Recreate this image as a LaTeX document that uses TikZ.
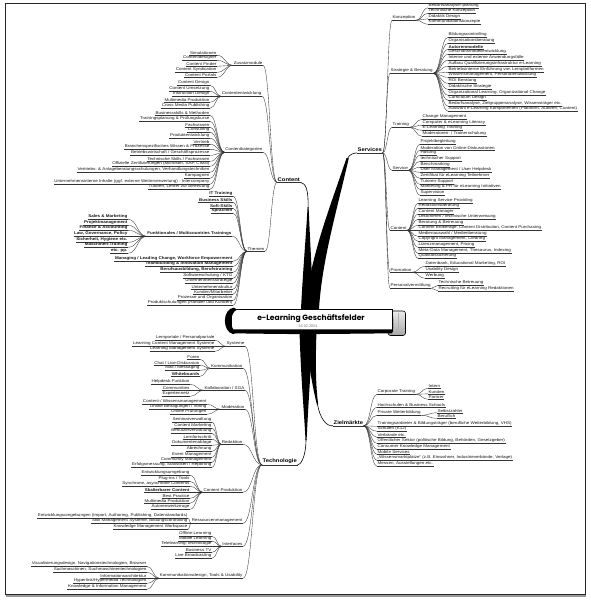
\documentclass[tikz,border=0pt]{standalone}
\usepackage{fontspec}
\setmainfont{Liberation Sans}
\newfontfamily\lffont{Liberation Sans}[FakeStretch=1.13]
\newfontfamily\ttlfont{Poppins}
\usetikzlibrary{calc}
\tikzset{
 lf/.style={font=\lffont\fontsize{4}{4}\selectfont, inner xsep=0.5pt, inner ysep=0.45pt, text=black!90},
 main/.style={font=\lffont\fontsize{5.2}{5.2}\selectfont\bfseries, inner xsep=0.5pt, inner ysep=0.6pt},
 ul/.style={line width=0.35pt, draw=black!80},
 hc/.style={to path={.. controls ($(\tikztostart)!0.5!(\tikztostart-|\tikztotarget)$) and ($(\tikztotarget)!0.5!(\tikztotarget-|\tikztostart)$) .. (\tikztotarget)}},
 br/.style={line width=0.35pt, draw=black!80, hc},
 arm/.style={fill=black},
 armline/.style={line width=0.6pt, draw=black},
}
\newcommand\Lft[5][lf]{\node[#1,anchor=south east] (#2) at (#3,#4+2.3) {#5};\draw[ul] (#2.south west) -- (#2.south east);}
\newcommand\Rgt[5][lf]{\node[#1,anchor=south west] (#2) at (#3,#4+2.3) {#5};\draw[ul] (#2.south west) -- (#2.south east);}
\newcommand\Cn[2]{\draw[br] (#1.south east) to (#2.south west);}
\begin{document}
\begin{tikzpicture}[x=1pt,y=-1pt]
\useasboundingbox (0,0) rectangle (590,600);
\fill[white] (0,0) rectangle (590,600);
\draw[line width=0.7pt, black!85] (5.5,3.5) rectangle (585.5,594.5);
\draw[line width=1.6pt, black!40] (5.5,596.2) -- (585.5,596.2);

% ---------- main labels ----------
\Rgt[main]{cn}{277}{180}{Content}
\Rgt[main]{svc}{357}{150.5}{Services}
\Rgt[main]{tec}{262}{462.5}{Technologie}
\Rgt[main]{zi}{333}{423.5}{Zielmärkte}

% ---------- trunk arms ----------
\fill[arm] (301,309) .. controls (303,270) and (306,235) .. (307.6,207) -- (308.6,207) .. controls (310,240) and (312,275) .. (313.5,309) -- cycle;
\draw[armline] (308.1,208) .. controls (308.5,190) and (306,183.5) .. (cn.south east);
\fill[arm] (304.5,309) .. controls (312,250) and (331,205) .. (346.5,158) -- (348.8,158) .. controls (337,210) and (322,260) .. (319,309) -- cycle;
\draw[armline] (347.8,158) .. controls (350,154) and (353,153.5) .. (svc.south west);
\fill[arm] (299.5,331) .. controls (301,380) and (304,410) .. (305.5,440) -- (306.6,440) .. controls (308,410) and (310,380) .. (313,331) -- cycle;
\draw[armline] (306,439) .. controls (306,458) and (300,465.5) .. (tec.south east);
\fill[arm] (305,331) .. controls (308,360) and (312,385) .. (317,405) -- (318.2,404.5) .. controls (315.5,385) and (315.5,360) .. (316.5,331) -- cycle;
\draw[armline] (317.5,404.5) .. controls (320,418) and (326,426.5) .. (zi.south west);

% ---------- banner ----------
\shade[top color=gray!15, bottom color=gray!70, draw=black, line width=0.6pt, rounded corners=2.5pt] (388,311) rectangle (405.5,335.5);
\draw[line width=0.4pt, gray] (392.5,313.5) .. controls (394,324) .. (392.5,333.5);
\draw[line width=0.4pt, gray!60] (398,313) -- (398,334);
\draw[line width=0.9pt, fill=white] (231,309) -- (392,309) -- (392,331) -- (231,331) -- cycle;
\fill (231,329.3) -- (392,329.3) -- (392,333.3) .. controls (300,334.3) .. (233,333.3) -- cycle;
\fill (234,307.6) .. controls (222,309) and (222,331.5) .. (233,334) -- (236,333) .. controls (229.5,328) and (229.5,313) .. (237,309.6) -- cycle;
\node[font=\ttlfont\bfseries\fontsize{7.6}{8}\selectfont, inner sep=0pt] (title) at (311,318.3) {e-Learning Geschäftsfelder};
\node[font=\fontsize{3.8}{4}\selectfont, text=black!55, inner sep=0pt] (date) at (308,326.6) {16.02.2001};

% ---------- CONTENT ----------
\Lft{zm}{263}{63}{Zusatzmodule}
\Lft{ce}{262}{94}{Contententwicklung}
\Lft{ck}{263}{150}{Contentkategorien}
\Lft{th}{265}{249}{Themen}
\Cn{zm}{cn}\Cn{ce}{cn}\Cn{ck}{cn}\Cn{th}{cn}

\foreach \yy/\txt [count=\i] in {53/{Simulationen},58/{Contentdesigner},64/{Content Finder},70/{Content Syndication},75/{Content Portals}}
 {\Lft{zma\i}{217}{\yy}{\txt}\Cn{zma\i}{zm}}
\foreach \yy/\txt [count=\i] in {83/{Content Design},89/{Content Umsetzung},94/{Instruction Design},100/{Multimedia Produktion},106/{Cross Media Publishing}}
 {\Lft{cea\i}{210}{\yy}{\txt}\Cn{cea\i}{ce}}
\foreach \yy/\txt [count=\i] in {113/{Businessskills \& Methoden},119/{Trainingsplanung \& Prüfungskurse},125/{Fachwissen},130/{Consulting},136/{Produktentwicklung},142/{Vertrieb},147/{Branchenspezifisches Wissen \& Prozesse},153/{Betriebswirtschaft / Geschäftsprozesse},159/{Technische Skills / Fachwissen},164/{Offizielle Zertifizierungen (Microsoft, SAP, Cisco)},170/{Vertriebs- \& Anlageberatungsschulungen, Verhandlungstechniken},176/{Kampagnen},182/{Unternehmensinterne Inhalte (ggf. externe Weiterverwertung) - Intercompany},187/{Tutoren, Lehrer zur Betreuung}}
 {\Lft{cka\i}{210}{\yy}{\txt}\Cn{cka\i}{ck}}

\Lft{fu}{232}{234}{\bfseries Funktionales / Multicountries Trainings}
\Cn{fu}{th}
\foreach \yy/\txt [count=\i] in {194/{\bfseries IT Training},200/{\bfseries Business Skills},206/{\bfseries Soft-Skills},211/{\bfseries Sprachen},259/{\bfseries Managing / Leading Change, Workforce Empowerment},264/{\bfseries Teambuilding \& Innovation Management},270/{\bfseries Berufsausbildung, Berufstraining},276/{Softwareschulung / KTG},281/{Unternehmensstrategie},287/{Unternehmenskultur},292/{Kunden/Mitarbeiter},298/{Prozesse und Organisation},303/{Produktschulungen (Händler und Kunden)}}
 {\Lft{tha\i}{233}{\yy}{\txt}\Cn{tha\i}{th}}
\foreach \yy/\txt [count=\i] in {217/{Sales \& Marketing},223/{Projektmanagement},228/{Finance \& Accounting},234/{Law, Governance, Policy},240/{Sicherheit, Hygiene etc.},245/{Maschinen-Training},251/{etc. pp.}}
 {\Lft{fua\i}{128}{\yy}{\bfseries\txt}\Cn{fua\i}{fu}}

% ---------- SERVICES ----------
\Rgt{kz}{392}{18}{Konzeption}
\Rgt{sb}{390}{71}{Strategie \& Beratung}
\Rgt{tr}{392}{125}{Training}
\Rgt{srv}{392}{168}{Service}
\Rgt{sct}{390}{228}{Content}
\Rgt{pro}{390}{270}{Promotion}
\Rgt{pv}{390}{286}{Personalvermittlung}
\Cn{svc}{kz}\Cn{svc}{sb}\Cn{svc}{tr}\Cn{svc}{srv}\Cn{svc}{sct}\Cn{svc}{pro}\Cn{svc}{pv}

\foreach \yy/\txt [count=\i] in {5.5/{Bedarfsanalyse/-planung},11/{Technische Konzeption},16.5/{Didaktik Design},22/{Kommunikationskonzepte}}
 {\Rgt{kza\i}{428}{\yy}{\txt}\Cn{kz}{kza\i}}
\foreach \yy/\txt [count=\i] in {35/{Bildungscontrolling},41/{Organisationsberatung},47/{\bfseries Autorenmodelle},52/{Geschäftsmodellentwicklung},58/{Interne und externe Anwendungsfälle},64/{Aufbau Qualifizierungsinfrastruktur e-Learning},70/{Betriebsinterne Einführung von Lernplattformen},75/{Wissensmanagement, Personalentwicklung},81/{ROI Beratung},87/{Didaktische Strategie},93/{Organizational Learning, Organizational Change},98/{Curriculum Design},104/{Bedarfsanalyse, Zielgruppenanalyse, Wissensträger etc.},109/{Auswahl e-Learning Komponenten (Plattform, Autoren, Content)}}
 {\Rgt{sba\i}{448}{\yy}{\txt}\Cn{sb}{sba\i}}
\foreach \yy/\txt [count=\i] in {117/{Change Management},123/{Computer \& eLearning Literacy},128/{E-Learning Training},134/{Moderatoren- / Trainerschulung}}
 {\Rgt{tra\i}{422}{\yy}{\txt}\Cn{tr}{tra\i}}
\foreach \yy/\txt [count=\i] in {142/{Projektbegleitung},148/{Moderation von Online-Diskussionen},153/{Hosting},159/{technischer Support},165/{Benchmarking},170/{User Management / User Helpdesk},176/{Zertifikat für eLearning Teilnehmer},182/{Tutoren-Support},187/{Marketing \& PR für eLearning Initiativen},193/{Supervision}}
 {\Rgt{srva\i}{420}{\yy}{\txt}\Cn{srv}{srva\i}}
\foreach \yy/\txt [count=\i] in {201/{Learning Service Providing},206/{Redaktionsberatung},212/{Content Manager},217/{Lektorieren / technische Unterweisung},223/{Beratung \& Betreuung},228/{Content Brokerage, Content Distribution, Content Purchasing},234/{Medienauswahl / Medienberatung},239/{Copyright Management, Clearing},245/{Lizenzmanagement, Pricing},251/{Meta-Data Management, Thesaurus, Indexing},256/{Qualitätssicherung}}
 {\Rgt{scta\i}{418}{\yy}{\txt}\Cn{sct}{scta\i}}
\foreach \yy/\txt [count=\i] in {264/{Datenbank, Educational Marketing, ROI},270/{Usability Design},276/{Werbung}}
 {\Rgt{proa\i}{425}{\yy}{\txt}\Cn{pro}{proa\i}}
\foreach \yy/\txt [count=\i] in {283/{Technische Betreuung},288.5/{Recruiting für eLearning Redaktionen}}
 {\Rgt{pva\i}{438}{\yy}{\txt}\Cn{pv}{pva\i}}

% ---------- TECHNOLOGIE ----------
\Lft{sy}{245}{344}{Systeme}
\Lft{ko}{243}{366}{Kommunikation}
\Lft{kl}{245}{388}{Kollaboration / SGA}
\Lft{mo}{245}{407}{Moderation}
\Lft{rd}{243}{442}{Redaktion}
\Lft{cp}{243}{490}{Content Produktion}
\Lft{rm}{243}{521}{Ressourcenmanagement}
\Lft{itf}{243}{544}{Interfaces}
\Lft{kt}{243}{576}{Kommunikationsdesign, Tools \& Usability}
\Cn{sy}{tec}\Cn{ko}{tec}\Cn{kl}{tec}\Cn{mo}{tec}\Cn{rd}{tec}\Cn{cp}{tec}\Cn{rm}{tec}\Cn{itf}{tec}\Cn{kt}{tec}

\foreach \yy/\txt [count=\i] in {338/{Lernportale / Personalportale},344/{Learning Content Management Systeme},349/{Learning Management Systeme}}
 {\Lft{sya\i}{215}{\yy}{\txt}\Cn{sya\i}{sy}}
\foreach \yy/\txt [count=\i] in {357/{Foren},363/{Chat / Live-Diskussion},368/{Mail / Messaging},374/{\bfseries Whiteboards}}
 {\Lft{koa\i}{200}{\yy}{\txt}\Cn{koa\i}{ko}}
\foreach \yy/\txt [count=\i] in {382/{Helpdesk-Funktion},388/{Communities},394/{Expertennetz}}
 {\Lft{kla\i}{190}{\yy}{\txt}\Cn{kla\i}{kl}}
\foreach \yy/\txt [count=\i] in {402/{Content-/ Wissensmanagement},407/{Online Befragungen / Voting},412/{Online Prüfungen}}
 {\Lft{moa\i}{207}{\yy}{\txt}\Cn{moa\i}{mo}}
\foreach \yy/\txt [count=\i] in {420/{Seminarverwaltung},426/{Content Marketing},431/{Benutzerverwaltung},437/{Lernfortschritt},443/{Dokumentenablage},449/{Abrechnung},455/{Event Management},460/{Community Management},465/{Erfolgsmessung, Statistiken / Reporting}}
 {\Lft{rda\i}{212}{\yy}{\txt}\Cn{rda\i}{rd}}
\foreach \yy/\txt [count=\i] in {473/{Entwicklungsumgebung},479/{Plug-ins / Tools},484/{Synchrone, asynchrone Contents},490/{\bfseries Skalierbarer Content},496/{Best Practice},501/{Multimedia Produktion},507/{Autorenwerkzeuge}}
 {\Lft{cpa\i}{190}{\yy}{\txt}\Cn{cpa\i}{cp}}
\foreach \yy/\txt [count=\i] in {516/{Entwicklungsumgebungen (Import, Authoring, Publishing, Datenstandards)},521/{Skill Management Systeme, Bildungscontrolling},527/{Knowledge Management Workspace}}
 {\Lft{rma\i}{188}{\yy}{\txt}\Cn{rma\i}{rm}}
\foreach \yy/\txt [count=\i] in {534/{Offline-Learning},539/{Mobile Learning},544/{Telelearning-Technologie},550/{Business TV},556/{Live Broadcasting}}
 {\Lft{itfa\i}{212}{\yy}{\txt}\Cn{itfa\i}{itf}}
\foreach \yy/\txt [count=\i] in {564/{Visualisierungsdesign, Navigationstechnologien, Browser},570/{Suchmaschinen, Suchmaschinentechnologien},576/{Informationsarchitektur},581/{Hyperlink/Hypermedia Technologien},587/{Knowledge \& Information Management}}
 {\Lft{kta\i}{147}{\yy}{\txt}\Cn{kta\i}{kt}}

% ---------- ZIELMAERKTE ----------
\Rgt{zct}{377}{392}{Corporate Training}
\Rgt{zpw}{377}{413}{Private Weiterbildung}
\Cn{zi}{zct}\Cn{zi}{zpw}
\foreach \yy/\txt [count=\i] in {405/{Hochschulen \& Business Schools},424/{Trainingsanbieter \& Bildungsträger (berufliche Weiterbildung, VHS)},429/{Schulen (K12)},435/{Verbände etc.},441/{Öffentlicher Sektor (politische Bildung, Behörden, Gesetzgeber)},447/{Consumer Knowledge Management},452/{Mobile Services},458/{„Wissensmarktplätze“ (z.B. Einwohner, Industrieverbände, Verlage)},464/{Messen, Ausstellungen etc.}}
 {\Rgt{zia\i}{377}{\yy}{\txt}\Cn{zi}{zia\i}}
\foreach \yy/\txt [count=\i] in {386/{Intern},391.5/{Kunden},397/{Partner}}
 {\Rgt{zcta\i}{428}{\yy}{\txt}\Cn{zct}{zcta\i}}
\foreach \yy/\txt [count=\i] in {410.5/{Selbstzahler},416/{Beruflich}}
 {\Rgt{zpwa\i}{437}{\yy}{\txt}\Cn{zpw}{zpwa\i}}
\end{tikzpicture}
\end{document}
